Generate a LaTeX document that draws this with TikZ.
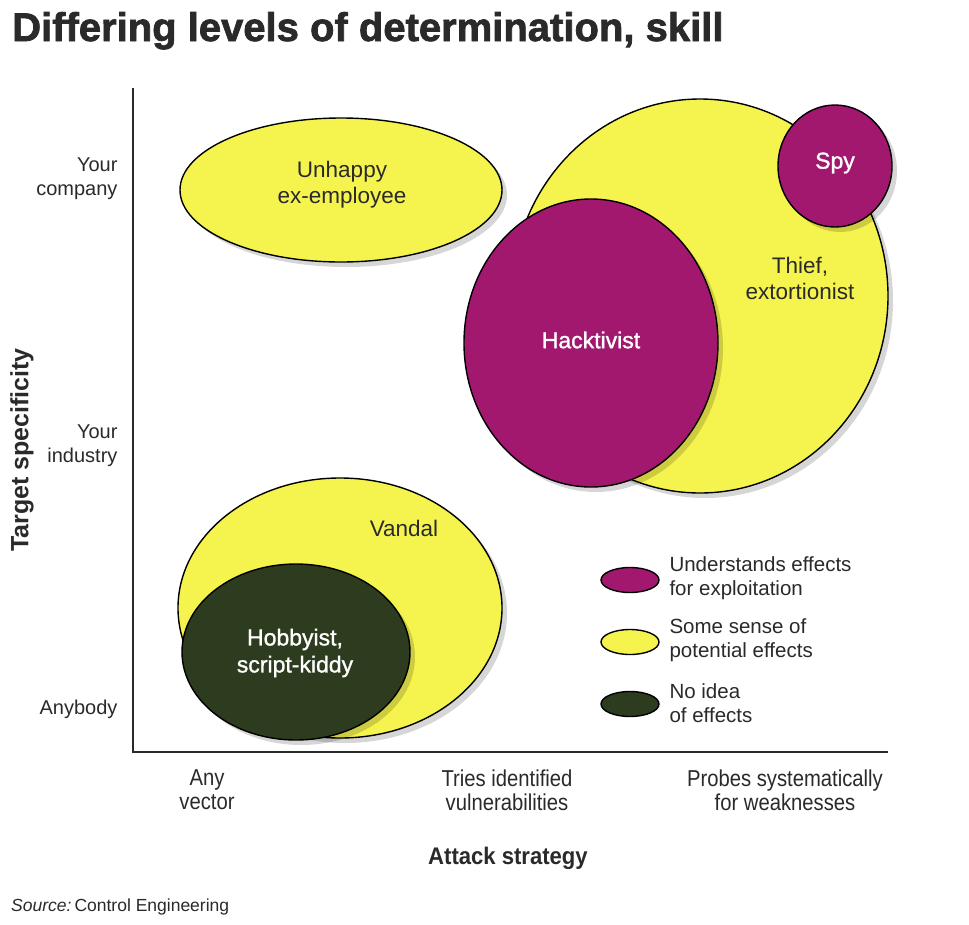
\documentclass[tikz,border=0pt]{standalone}
\usepackage{fontspec}
\setmainfont{Liberation Sans}
\newfontfamily\titlefont{Liberation Sans Bold}[FakeBold=1.8]
\newfontfamily\narrowfont{Liberation Sans}[FakeStretch=0.88]
\newfontfamily\axisfont{Liberation Sans Bold}[FakeStretch=0.92]
\newfontfamily\axisyfont{Liberation Sans Bold}
\newfontfamily\whitefont{Liberation Sans}[FakeBold=1.2]
\usetikzlibrary{shapes.geometric,shadows}
\definecolor{cmag}{HTML}{A3186F}
\definecolor{cyel}{HTML}{F5F44E}
\definecolor{cgrn}{HTML}{2D3B1E}
\definecolor{ctxt}{HTML}{2A2A2A}
\begin{document}
\begin{tikzpicture}[x=1pt,y=-1pt,
  blob/.style={ellipse, draw=black, line width=1.4pt, inner sep=0pt,
    drop shadow={shadow xshift=5pt, shadow yshift=-5pt, fill=black, opacity=0.16}},
  yel/.style={blob, fill=cyel},
  mag/.style={blob, fill=cmag},
  grn/.style={blob, fill=cgrn},
  lab/.style={font=\fontsize{22.5}{26}\selectfont, text=ctxt, align=center},
  wlab/.style={font=\whitefont\fontsize{23}{27}\selectfont, text=white, align=center},
  ytick/.style={font=\fontsize{20}{24}\selectfont, text=ctxt, align=right, anchor=east},
  xtick/.style={font=\narrowfont\fontsize{23}{24}\selectfont, text=ctxt, align=center},
  legmark/.style={ellipse, draw=black, line width=1.4pt, minimum width=58pt, minimum height=25pt, inner sep=0pt},
  legtext/.style={font=\fontsize{20.5}{24}\selectfont, text=ctxt, align=left, anchor=west},
  axtitle/.style={font=\axisfont\fontsize{24}{28}\selectfont, text=ctxt},
  aytitle/.style={font=\axisyfont\fontsize{25}{28}\selectfont, text=ctxt}
]
\useasboundingbox (0,0) rectangle (969,924);
\fill[white] (0,0) rectangle (969,924);

% title
\node[anchor=base west, inner sep=0pt, font=\titlefont\fontsize{40}{44}\selectfont, text=ctxt] (title) at (12,41) {Differing levels of determination, skill};

% axes
\coordinate (ytop) at (133,88);
\coordinate (orig) at (133,752);
\coordinate (xend) at (888,752);
\draw[line width=1.6pt, draw=ctxt] (ytop) -- (orig) -- (xend);

% y ticks
\node[ytick] (tcomp) at (121,179) {Your\\company};
\node[ytick] (tind) at (121,446) {Your\\industry};
\node[ytick] (tany) at (121,709) {Anybody};
\node[aytitle, rotate=90] (ytitle) at (22,450) {Target specificity};

% x ticks
\node[xtick] (xany) at (207,790) {Any\\vector};
\node[xtick] (xtries) at (507,790) {Tries identified\\vulnerabilities};
\node[xtick] (xprobes) at (785,790) {Probes systematically\\for weaknesses};
\node[axtitle] (xtitle) at (508,858) {Attack strategy};

% source
\node[anchor=west, inner sep=0pt, font=\fontsize{17.5}{20}\selectfont, text=ctxt] (src) at (11,907) {\textit{Source:}\hspace{3pt}Control Engineering};

% blobs
\node[yel, minimum width=322pt, minimum height=144pt] (unhappy) at (341,190) {};
\node[lab] (unhappyl) at (342,185) {Unhappy\\ex-employee};

\node[yel, minimum width=376pt, minimum height=394pt] (thief) at (700,296) {};
\node[mag, minimum width=114pt, minimum height=122pt] (spy) at (835,166) {};
\node[mag, minimum width=254pt, minimum height=288pt] (hack) at (591,343) {};
\node[lab] (thiefl) at (800,278) {Thief,\\extortionist};
\node[wlab] (spyl) at (835,163) {Spy};
\node[wlab] (hackl) at (591,340) {Hacktivist};

\node[yel, minimum width=324pt, minimum height=260pt] (vandal) at (340,608) {};
\node[lab] (vandall) at (404,528) {Vandal};
\node[grn, minimum width=228pt, minimum height=176pt] (hobby) at (296,652) {};
\node[wlab] (hobbyl) at (295,653) {Hobbyist,\\script-kiddy};

% legend
\node[legmark, fill=cmag] (lg1) at (630,580) {};
\node[legmark, fill=cyel] (lg2) at (630,642) {};
\node[legmark, fill=cgrn] (lg3) at (630,704) {};
\node[legtext] (lt1) at (666,578) {Understands effects\\for exploitation};
\node[legtext] (lt2) at (666,640) {Some sense of\\potential effects};
\node[legtext] (lt3) at (666,703) {No idea\\of effects};
\end{tikzpicture}
\end{document}
